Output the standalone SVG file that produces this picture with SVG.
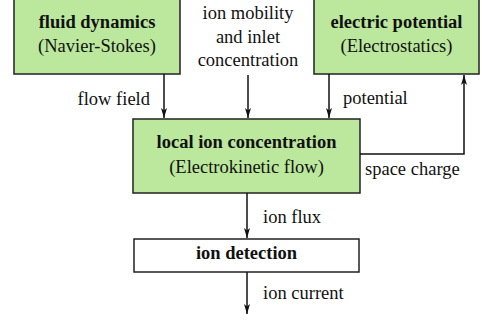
<svg xmlns="http://www.w3.org/2000/svg" width="482" height="323" viewBox="0 0 482 323">
<style>
text{font-family:"Liberation Serif","Times New Roman",serif;font-size:18.5px;fill:#111}
.b{font-weight:bold}
.c{text-anchor:middle}
.e{text-anchor:end}
.g{fill:#bce89d;stroke:#222;stroke-width:1.5}
.w{fill:#fff;stroke:#222;stroke-width:1.5}
.l{fill:none;stroke:#111;stroke-width:1.5;marker-end:url(#ah)}
</style>
<defs>
<marker id="ah" markerUnits="userSpaceOnUse" markerWidth="11" markerHeight="7" refX="10" refY="3.5" orient="auto" viewBox="0 0 11 7">
<path d="M0,0.5 L10,3.5 L0,6.5 L2.5,3.5 Z" fill="#111"/>
</marker>
</defs>
<g id="fluid">
<rect class="g" x="14" y="-2" width="166" height="76"/>
<text class="b c" x="97" y="28">fluid dynamics</text>
<text class="c" x="97" y="52">(Navier-Stokes)</text>
</g>
<g id="inputs">
<text class="c" x="248" y="19">ion mobility</text>
<text class="c" x="248" y="43">and inlet</text>
<text class="c" x="248" y="66">concentration</text>
</g>
<g id="electric">
<rect class="g" x="314" y="-2" width="165" height="76"/>
<text class="b c" x="396.5" y="28">electric potential</text>
<text class="c" x="396.5" y="52">(Electrostatics)</text>
</g>
<g id="local">
<rect class="g" x="133" y="119" width="227" height="74"/>
<text class="b c" x="246.5" y="148">local ion concentration</text>
<text class="c" x="246.5" y="173">(Electrokinetic flow)</text>
</g>
<g id="detection">
<rect class="w" x="134" y="239" width="225" height="33"/>
<text class="b c" x="246.5" y="259">ion detection</text>
</g>
<g id="connectors">
<path class="l" d="M164,74 V118"/>
<path class="l" d="M248,75 V118"/>
<path class="l" d="M329,74 V118"/>
<path class="l" d="M360,154 H464 V75"/>
<path class="l" d="M247,193 V238"/>
<path class="l" d="M247,272 V314"/>
<text class="e" x="150" y="105">flow field</text>
<text x="343" y="104">potential</text>
<text x="365" y="175">space charge</text>
<text x="263" y="223">ion flux</text>
<text x="263" y="299">ion current</text>
</g>
</svg>
